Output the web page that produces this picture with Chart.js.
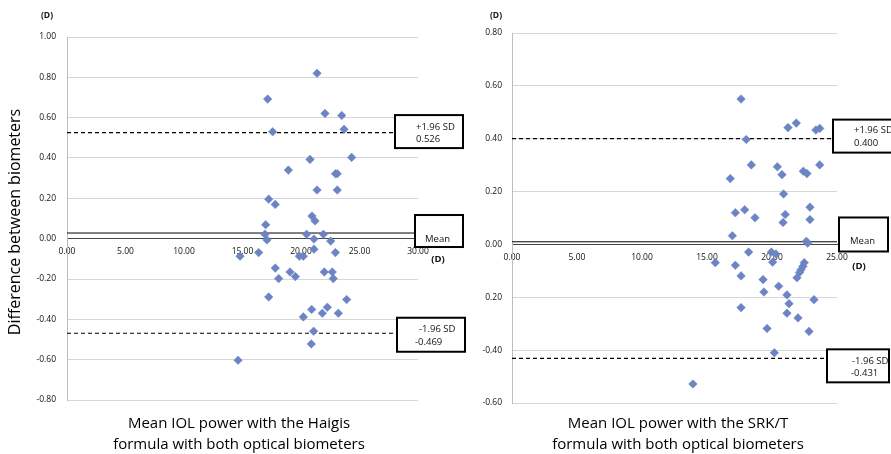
<!DOCTYPE html>
<html>
<head>
<meta charset="utf-8">
<script src="https://cdn.jsdelivr.net/npm/chart.js@4.4.0/dist/chart.umd.min.js"></script>
<style>
  body { margin: 0; background: #fff; }
  canvas { position: absolute; top: 0; }
  #haigisChart { left: 0; }
  #srktChart { left: 470px; }
</style>
</head>
<body>
<canvas id="haigisChart" width="470" height="454"></canvas>
<canvas id="srktChart" width="421" height="454"></canvas>
<script>
// Haigis formula: mean IOL power vs difference between biometers (D)
const haigisMean = [21.37, 17.15, 22.05, 23.48, 17.58, 23.68, 24.33, 20.77, 18.92, 22.95,
  23.10, 21.37, 23.10, 17.24, 17.80, 20.94, 21.20, 16.98, 16.92, 17.09,
  20.48, 21.91, 21.11, 22.54, 16.38, 21.11, 22.94, 14.79, 19.86, 20.20,
  17.80, 19.06, 19.52, 18.09, 21.99, 22.67, 22.76, 17.24, 23.90, 20.91,
  22.25, 21.82, 23.19, 20.20, 21.08, 20.88, 14.62];
const haigisDiff = [0.820, 0.692, 0.621, 0.611, 0.530, 0.542, 0.403, 0.393, 0.340, 0.322,
  0.322, 0.241, 0.241, 0.196, 0.170, 0.112, 0.088, 0.069, 0.022, -0.006,
  0.022, 0.022, -0.002, -0.012, -0.069, -0.052, -0.069, -0.087, -0.087, -0.087,
  -0.146, -0.165, -0.188, -0.198, -0.165, -0.165, -0.198, -0.289, -0.302, -0.351,
  -0.340, -0.370, -0.370, -0.388, -0.459, -0.522, -0.603];
const haigisLimits = [0.526, 0.028, -0.469]; // +1.96 SD, mean, -1.96 SD

// SRK/T formula
const srktMean = [17.62, 21.23, 21.87, 23.38, 23.67, 18.02, 18.41, 20.41, 20.77, 22.41,
  22.69, 23.67, 16.79, 20.89, 17.18, 17.90, 18.69, 21.02, 20.85, 22.92,
  22.92, 16.95, 22.64, 22.74, 18.20, 19.95, 20.30, 20.05, 15.64, 17.18,
  22.48, 22.38, 22.23, 22.12, 21.92, 17.62, 19.31, 20.51, 19.38, 21.15,
  21.31, 23.23, 17.62, 21.15, 22.00, 19.62, 22.85, 20.18, 13.92];
const srktDiff = [0.550, 0.442, 0.459, 0.433, 0.439, 0.397, 0.301, 0.294, 0.264, 0.277,
  0.268, 0.301, 0.249, 0.191, 0.120, 0.131, 0.101, 0.113, 0.083, 0.141,
  0.094, 0.033, 0.012, 0.005, -0.029, -0.029, -0.036, -0.067, -0.069, -0.079,
  -0.069, -0.083, -0.096, -0.106, -0.126, -0.119, -0.133, -0.158, -0.180, -0.191,
  -0.224, -0.209, -0.239, -0.260, -0.278, -0.318, -0.329, -0.410, -0.528];
const srktLimits = [0.400, 0.010, -0.431];

// tick labels as printed (the SRK/T panel prints "0.20" at -0.20)
const srktYTicks = [-0.6, -0.4, -0.2, 0, 0.2, 0.4, 0.6, 0.8];
const srktYTickLabels = ['-0.60', '-0.40', '0.20', '0.00', '0.20', '0.40', '0.60', '0.80'];

const FONT = '"Open Sans", sans-serif';
const POINT_COLOR = '#6c84c4';
const TEXT = '#111';

// boxes, (D) units and axis titles drawn over the plot
const notesPlugin = {
  id: 'notes',
  afterDatasetsDraw(chart, args, opts) {
    const ctx = chart.ctx;
    const yScale = chart.scales.y;
    ctx.save();
    opts.boxes.forEach(b => {
      const cy = yScale.getPixelForValue(b.value) + b.dy;
      const top = cy - b.h / 2;
      ctx.fillStyle = '#fff';
      ctx.fillRect(b.left, top, b.w, b.h);
      ctx.lineWidth = 2;
      ctx.strokeStyle = '#000';
      ctx.strokeRect(b.left, top, b.w, b.h);
      ctx.fillStyle = TEXT;
      ctx.font = '9.5px ' + FONT;
      ctx.textBaseline = 'middle';
      ctx.textAlign = 'left';
      b.lines.forEach(l => ctx.fillText(l[0], b.left + l[1], top + l[2]));
    });

    ctx.fillStyle = TEXT;
    ctx.textAlign = 'center';
    ctx.textBaseline = 'middle';
    ctx.font = 'bold 8.5px ' + FONT;
    ctx.fillText('(D)', opts.unitTop[0], opts.unitTop[1]);
    ctx.font = 'bold 9.5px ' + FONT;
    ctx.fillText('(D)', opts.unitX[0], opts.unitX[1]);

    ctx.fillStyle = '#000';
    ctx.font = '15px ' + FONT;
    opts.xTitle.forEach((t, i) => ctx.fillText(t, opts.xTitleX, 424 + i * 21));

    if (opts.yTitle) {
      ctx.translate(15, 222);
      ctx.rotate(-Math.PI / 2);
      ctx.font = '16px ' + FONT;
      ctx.fillText(opts.yTitle, 0, 0);
    }
    ctx.restore();
  }
};

function limitLine(limit, xMax, dashed) {
  return {
    data: [{ x: 0, y: limit }, { x: xMax, y: limit }],
    showLine: true,
    pointRadius: 0,
    borderColor: '#000',
    borderWidth: dashed ? 1.2 : 1,
    borderDash: dashed ? [4, 3] : [],
    order: 2
  };
}

function makeChart(id, cfg) {
  return new Chart(document.getElementById(id), {
    type: 'scatter',
    data: {
      datasets: [
        {
          data: cfg.xs.map((x, i) => ({ x, y: cfg.ys[i] })),
          pointStyle: 'rectRot',
          pointRadius: 4.3,
          backgroundColor: POINT_COLOR,
          borderColor: POINT_COLOR,
          borderWidth: 0.5,
          order: 1
        },
        limitLine(cfg.limits[0], cfg.xMax, true),
        limitLine(cfg.limits[1], cfg.xMax, false),
        limitLine(cfg.limits[2], cfg.xMax, true)
      ]
    },
    options: {
      responsive: false,
      animation: false,
      events: [],
      layout: { padding: cfg.padding },
      plugins: {
        legend: { display: false },
        tooltip: { enabled: false },
        notes: cfg.notes
      },
      scales: {
        x: {
          type: 'linear',
          position: { y: 0 },
          min: 0,
          max: cfg.xMax,
          grid: { display: false, drawTicks: false },
          border: { display: true, color: '#444', width: 1 },
          ticks: {
            stepSize: 5,
            padding: 8,
            color: TEXT,
            font: { family: FONT, size: 8.5 },
            maxRotation: 0,
            callback: v => v.toFixed(2)
          }
        },
        y: {
          min: cfg.yMin,
          max: cfg.yMax,
          afterFit: s => { s.width = cfg.yWidth; },
          grid: { color: '#d6d6d6', drawTicks: false },
          border: { color: '#bdbdbd' },
          ticks: {
            stepSize: 0.2,
            padding: cfg.yPad,
            color: TEXT,
            font: { family: FONT, size: 8.5 },
            callback: cfg.yLabel
          }
        }
      }
    },
    plugins: [notesPlugin]
  });
}

makeChart('haigisChart', {
  xs: haigisMean, ys: haigisDiff, limits: haigisLimits,
  xMax: 30, yMin: -0.8, yMax: 1.0,
  padding: { left: 0, top: 37, right: 52, bottom: 54 },
  yWidth: 67, yPad: 11,
  yLabel: v => v.toFixed(2),
  notes: {
    boxes: [
      { value: haigisLimits[0], dy: -1, left: 395, w: 68, h: 33, lines: [['+1.96 SD', 21, 12], ['0.526', 21, 24]] },
      { value: haigisLimits[1], dy: -2, left: 415, w: 48, h: 32, lines: [['Mean', 10, 24]] },
      { value: haigisLimits[2], dy: 1.5, left: 397, w: 68, h: 34, lines: [['-1.96 SD', 22, 12], ['-0.469', 18, 25]] }
    ],
    unitTop: [47, 16],
    unitX: [438, 259],
    xTitle: ['Mean IOL power with the Haigis', 'formula with both optical biometers'],
    xTitleX: 239,
    yTitle: 'Difference between biometers'
  }
});

makeChart('srktChart', {
  xs: srktMean, ys: srktDiff, limits: srktLimits,
  xMax: 25, yMin: -0.6, yMax: 0.8,
  padding: { left: 0, top: 33, right: 54, bottom: 51 },
  yWidth: 42, yPad: 10,
  yLabel: v => {
    const i = srktYTicks.findIndex(t => Math.abs(t - v) < 1e-6);
    return i >= 0 ? srktYTickLabels[i] : v.toFixed(2);
  },
  notes: {
    boxes: [
      { value: srktLimits[0], dy: -2.6, left: 363, w: 62, h: 33, lines: [['+1.96 SD', 21, 11], ['0.400', 21, 24]] },
      { value: srktLimits[1], dy: -7.3, left: 369, w: 49, h: 34, lines: [['Mean', 11, 24]] },
      { value: srktLimits[2], dy: 7.5, left: 357, w: 62, h: 33, lines: [['-1.96 SD', 25, 11.5], ['-0.431', 24, 24]] }
    ],
    unitTop: [26, 16],
    unitX: [389, 266],
    xTitle: ['Mean IOL power with the SRK/T', 'formula with both optical biometers'],
    xTitleX: 208,
    yTitle: null
  }
});
</script>
</body>
</html>
